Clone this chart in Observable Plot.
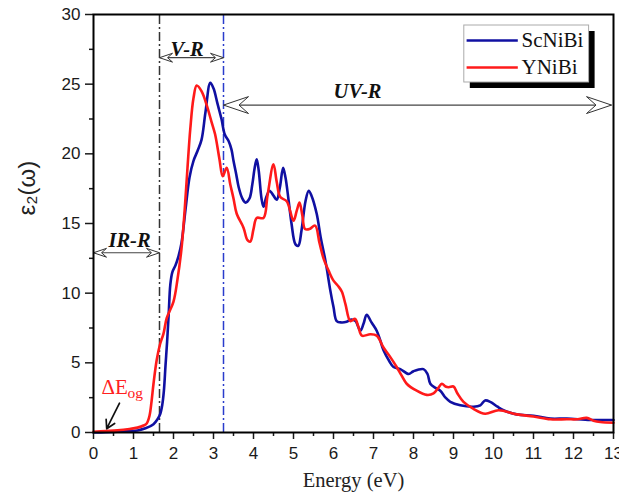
<!DOCTYPE html>
<html>
<head>
<meta charset="utf-8">
<script src="https://cdn.jsdelivr.net/npm/d3@7"></script>
<script src="https://cdn.jsdelivr.net/npm/@observablehq/plot@0.6"></script>
<style>
  html, body { margin: 0; padding: 0; background: #fff; }
</style>
</head>
<body>
<div id="chart"></div>
<script>
// ---------- data ----------
const seriesNames = ["ScNiBi", "YNiBi"];
const seriesColors = ["#1010a2", "#ff1a1a"];

const scEnergy = [0, 0.3, 0.6, 0.9, 1.1, 1.3, 1.5, 1.6, 1.67, 1.72, 1.76, 1.8, 1.84, 1.88, 1.92, 1.97, 2.05, 2.12, 2.2, 2.3, 2.4, 2.5, 2.6, 2.7, 2.8, 2.92, 3.0, 3.1, 3.2, 3.28, 3.38, 3.45, 3.5, 3.57, 3.63, 3.72, 3.8, 3.9, 3.97, 4.03, 4.08, 4.13, 4.2, 4.25, 4.32, 4.4, 4.5, 4.58, 4.66, 4.74, 4.8, 4.88, 4.95, 5.05, 5.12, 5.2, 5.3, 5.38, 5.45, 5.58, 5.68, 5.8, 5.92, 6.0, 6.08, 6.2, 6.33, 6.45, 6.55, 6.67, 6.75, 6.83, 6.95, 7.08, 7.17, 7.25, 7.4, 7.5, 7.67, 7.88, 8.0, 8.25, 8.35, 8.42, 8.55, 8.67, 8.8, 8.92, 9.17, 9.5, 9.67, 9.79, 9.92, 10.1, 10.25, 10.58, 11.0, 11.42, 11.83, 12.42, 13.0];
const scEps2 = [0.0, 0.02, 0.05, 0.1, 0.15, 0.3, 0.6, 0.95, 1.35, 2.0, 3.0, 4.8, 6.5, 8.5, 10.6, 11.5, 12.0, 12.6, 13.6, 16.0, 18.3, 19.5, 20.2, 21.0, 23.0, 25.1, 24.7, 23.6, 22.5, 21.4, 20.9, 20.3, 19.5, 18.5, 17.6, 16.8, 16.5, 16.8, 17.8, 19.0, 19.6, 18.8, 16.8, 16.2, 16.9, 17.35, 17.0, 16.7, 17.6, 19.0, 18.3, 16.6, 15.0, 13.5, 13.4, 14.5, 16.6, 17.35, 17.0, 15.7, 14.0, 12.3, 10.2, 9.0, 8.0, 7.9, 7.95, 8.1, 8.0, 7.3, 7.8, 8.45, 7.9, 7.3, 6.6, 5.9, 5.1, 4.7, 4.55, 4.2, 4.4, 4.55, 4.2, 3.5, 3.2, 3.0, 2.5, 2.2, 1.95, 1.85, 1.95, 2.3, 2.2, 1.85, 1.6, 1.3, 1.2, 1.0, 1.0, 0.9, 0.9];

const yEnergy = [0, 0.3, 0.6, 0.9, 1.1, 1.25, 1.33, 1.4, 1.45, 1.5, 1.58, 1.66, 1.75, 1.83, 2.0, 2.1, 2.2, 2.28, 2.35, 2.42, 2.5, 2.58, 2.7, 2.83, 2.95, 3.04, 3.15, 3.23, 3.33, 3.42, 3.5, 3.58, 3.75, 3.85, 3.92, 4.0, 4.08, 4.25, 4.35, 4.5, 4.58, 4.67, 4.83, 5.0, 5.08, 5.15, 5.22, 5.29, 5.4, 5.54, 5.65, 5.75, 5.88, 6.0, 6.12, 6.21, 6.3, 6.42, 6.54, 6.62, 6.71, 6.92, 7.08, 7.25, 7.4, 7.58, 7.7, 7.83, 8.08, 8.33, 8.5, 8.62, 8.71, 8.8, 8.88, 9.0, 9.1, 9.25, 9.5, 9.79, 10.13, 10.58, 11.0, 11.42, 11.83, 12.1, 12.33, 12.5, 12.67, 13.0];
const yEps2 = [0.05, 0.1, 0.15, 0.25, 0.35, 0.5, 0.65, 1.2, 2.2, 3.5, 5.2, 6.3, 7.1, 8.2, 9.4, 11.0, 13.2, 16.0, 19.0, 21.8, 24.0, 24.9, 24.5, 23.5, 22.3, 21.4, 19.6, 18.4, 19.0, 17.8, 16.8, 15.7, 14.7, 13.8, 13.7, 14.6, 15.4, 15.4, 17.0, 19.25, 18.0, 16.9, 16.6, 15.2, 15.9, 16.5, 15.6, 14.6, 14.6, 14.85, 13.6, 12.5, 11.6, 10.9, 10.5, 10.1, 9.2, 8.0, 8.15, 7.6, 6.95, 7.05, 6.95, 6.1, 5.5, 4.7, 4.1, 3.5, 3.0, 2.7, 2.8, 3.2, 3.5, 3.3, 3.25, 3.3, 2.8, 2.2, 1.7, 1.35, 1.6, 1.3, 1.15, 0.95, 0.95, 0.95, 1.05, 0.85, 0.75, 0.7];

const xTicks = [0, 1, 2, 3, 4, 5, 6, 7, 8, 9, 10, 11, 12, 13];
const yTicks = [0, 5, 10, 15, 20, 25, 30];

// region annotations
const boundaries = [1.65, 3.25];
const regionNames = ["IR-R", "V-R", "UV-R"];
const regionFrom = [0, 1.65, 3.25];
const regionTo = [1.65, 3.25, 12.95];
const regionArrowY = [12.9, 26.9, 23.5];
const regionLabelX = [0.9, 2.34, 6.6];
const regionLabelY = [13.3, 27.05, 24.0];

// gap annotation
const gapLabel = "ΔE";
const gapSub = "og";
const gapArrow = [{x1: 0.65, y1: 2.1, x2: 0.33, y2: 0.27}];

// ---------- build ----------
const rows = [
  ...scEnergy.map((e, i) => ({e, v: scEps2[i], s: seriesNames[0]})),
  ...yEnergy.map((e, i) => ({e, v: yEps2[i], s: seriesNames[1]}))
];
const regions = regionNames.map((name, i) => ({
  name, x1: regionFrom[i], x2: regionTo[i], y: regionArrowY[i],
  lx: regionLabelX[i], ly: regionLabelY[i], big: name === "UV-R"
}));
const heads = regions.flatMap(r => [
  {x: r.x1, y: r.y, rot: 180, big: r.big},
  {x: r.x2, y: r.y, rot: 0, big: r.big}
]);

const headSymbol = {
  draw(context, size) {
    const s = Math.sqrt(size / Math.PI);
    const L = 2 * s, H = 1.35 * s;
    context.moveTo(0, 0);
    context.lineTo(-L, -H / 2);
    context.lineTo(-0.62 * L, 0);
    context.lineTo(-L, H / 2);
    context.closePath();
  }
};

const serif = "'Liberation Serif', 'Times New Roman', serif";

const chart = Plot.plot({
  width: 619,
  height: 502,
  marginLeft: 93,
  marginRight: 6,
  marginTop: 14,
  marginBottom: 70,
  style: {fontFamily: "'Liberation Sans', Arial, sans-serif", color: "#1a1a1a", background: "#fff", overflow: "visible"},
  x: {domain: [0, 13]},
  y: {domain: [0, 30]},
  marks: [
    // boundaries
    Plot.ruleX([boundaries[0]], {y1: 0, y2: 30, stroke: "#333", strokeWidth: 1.5, strokeDasharray: "9,3,2,3"}),
    Plot.ruleX([boundaries[1]], {y1: 0, y2: 30, stroke: "#2a3ccc", strokeWidth: 1.5, strokeDasharray: "9,3,2,3"}),
    // region arrows
    Plot.link(regions, {x1: "x1", x2: "x2", y1: "y", y2: "y", stroke: "#444", strokeWidth: 1.2}),
    Plot.dot(heads.filter(d => !d.big), {x: "x", y: "y", r: 6.5, symbol: headSymbol, rotate: "rot", fill: "white", stroke: "#333", strokeWidth: 1}),
    Plot.dot(heads.filter(d => d.big), {x: "x", y: "y", r: 12.5, symbol: headSymbol, rotate: "rot", fill: "white", stroke: "#333", strokeWidth: 1}),
    Plot.text(regions, {x: "lx", y: "ly", text: "name", lineAnchor: "bottom", fontFamily: serif, fontWeight: "bold", fontStyle: "italic", fontSize: 20.5, fill: "#111"}),
    // curves
    Plot.line(rows, {x: "e", y: "v", z: "s", stroke: "s", strokeWidth: 2.6, curve: "catmull-rom"}),
    // gap annotation
    Plot.arrow(gapArrow, {x1: "x1", y1: "y1", x2: "x2", y2: "y2", stroke: "#111", strokeWidth: 1.7, headLength: 10}),
    Plot.text([gapLabel], {x: 0.2, y: 2.75, text: d => d, textAnchor: "start", lineAnchor: "bottom", fontFamily: serif, fontSize: 21, fill: "#ff2020"}),
    Plot.text([gapSub], {x: 0.2, y: 2.75, dx: 26, dy: 4, text: d => d, textAnchor: "start", lineAnchor: "bottom", fontFamily: serif, fontSize: 15.5, fill: "#ff2020"}),
    // legend
    Plot.rect([0], {x1: 9.27, x2: 12.39, y1: 25.12, y2: 29.21, dx: 6, dy: 6, fill: "#000"}),
    Plot.rect([0], {x1: 9.27, x2: 12.39, y1: 25.12, y2: 29.21, fill: "#fff", stroke: "#aaa", strokeWidth: 1}),
    Plot.ruleY([28.13], {x1: 9.34, x2: 10.62, stroke: seriesColors[0], strokeWidth: 2.6}),
    Plot.ruleY([26.2], {x1: 9.34, x2: 10.62, stroke: seriesColors[1], strokeWidth: 2.6}),
    Plot.text([seriesNames[0]], {x: 10.7, y: 28.13, text: d => d, textAnchor: "start", fontFamily: serif, fontSize: 21, fill: "#111"}),
    Plot.text([seriesNames[1]], {x: 10.7, y: 26.2, text: d => d, textAnchor: "start", fontFamily: serif, fontSize: 21, fill: "#111"}),
    // axes
    Plot.axisX({ticks: xTicks, tickSize: 7, tickPadding: 7, fontSize: 17, label: null, strokeWidth: 1.5}),
    Plot.axisX({ticks: d3.range(0.5, 13, 1), tickSize: 4, tickFormat: () => "", label: null, strokeWidth: 1.5}),
    Plot.axisY({ticks: yTicks, tickSize: 8, tickPadding: 5, fontSize: 17, label: null, strokeWidth: 1.5}),
    Plot.axisY({ticks: d3.range(2.5, 30, 5), tickSize: 4, tickFormat: () => "", label: null, strokeWidth: 1.5}),
    Plot.frame({stroke: "#000", strokeWidth: 2}),
    // axis titles
    Plot.text(["Energy (eV)"], {frameAnchor: "bottom", dy: 54, text: d => d, fontFamily: serif, fontSize: 20.5, fill: "#222"}),
    Plot.text(["ε₂(ω)"], {frameAnchor: "left", dx: -66, dy: -8, rotate: -90, text: d => d, fontSize: 24, fill: "#222"})
  ],
  color: {domain: seriesNames, range: seriesColors}
});
document.getElementById("chart").appendChild(chart);
</script>
</body>
</html>
